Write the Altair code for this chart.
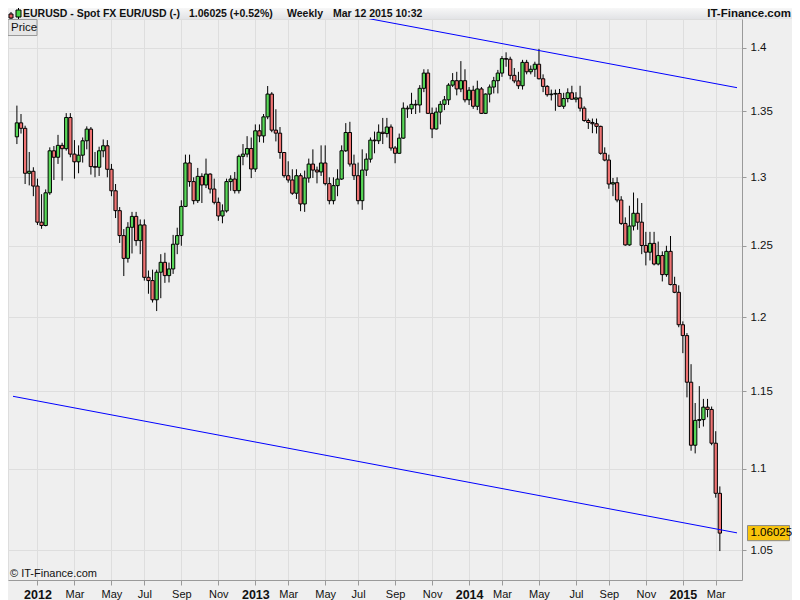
import altair as alt
import pandas as pd

FONT = "Liberation Sans"

# ---------------- data ----------------
FIRST_WEEK = "2011-11-28"
N_WEEKS = 172
FIRST_OPEN = 1.3305
CLOSE = [
    1.3412, 1.3370, 1.3030, 1.3045, 1.2935, 1.2670, 1.2646, 1.2885, 1.3199, 1.3150,
    1.3240, 1.3215, 1.3453, 1.3174, 1.3116, 1.3166, 1.3275, 1.3364, 1.3080, 1.3075,
    1.3199, 1.3237, 1.3060, 1.2900, 1.2754, 1.2573, 1.2410, 1.2633, 1.2712, 1.2537,
    1.2650, 1.2276, 1.2253, 1.2119, 1.2312, 1.2382, 1.2288, 1.2335, 1.2511, 1.2573,
    1.2785, 1.3107, 1.2968, 1.2827, 1.3007, 1.2943, 1.3024, 1.2913, 1.2815, 1.2715,
    1.2752, 1.2968, 1.2987, 1.2901, 1.3157, 1.3174, 1.3216, 1.3062, 1.3351, 1.3312,
    1.3458, 1.3635, 1.3356, 1.3333, 1.3186, 1.3012, 1.2980, 1.2882, 1.3012, 1.2803,
    1.2995, 1.3099, 1.3054, 1.3040, 1.3107, 1.2953, 1.2827, 1.2938, 1.2987, 1.3199,
    1.3338, 1.3099, 1.3012, 1.2827, 1.3054, 1.3136, 1.3280, 1.3275, 1.3340, 1.3330,
    1.3380, 1.3220, 1.3180, 1.3295, 1.3525, 1.3520, 1.3555, 1.3550, 1.3680, 1.3800,
    1.3485, 1.3365, 1.3495, 1.3555, 1.3590, 1.3705, 1.3740, 1.3675, 1.3740, 1.3590,
    1.3665, 1.3540, 1.3675, 1.3485, 1.3635, 1.3690, 1.3740, 1.3800, 1.3915, 1.3910,
    1.3782, 1.3738, 1.3700, 1.3885, 1.3810, 1.3830, 1.3870, 1.3755, 1.3695, 1.3630,
    1.3635, 1.3640, 1.3540, 1.3600, 1.3645, 1.3595, 1.3605, 1.3525, 1.3430, 1.3415,
    1.3405, 1.3385, 1.3180, 1.3129, 1.2950, 1.2960, 1.2832, 1.2661, 1.2506, 1.2642,
    1.2735, 1.2670, 1.2502, 1.2454, 1.2517, 1.2370, 1.2430, 1.2295, 1.2460, 1.2225,
    1.2171, 1.1947, 1.1873, 1.1560, 1.1150, 1.1310, 1.1315, 1.1396, 1.1381, 1.1163,
    1.0847, 1.06025,
]
HIGH = [
    1.3545, 1.3480, 1.3390, 1.3190, 1.3075, 1.2990, 1.2875, 1.2910, 1.3225, 1.3235,
    1.3320, 1.3260, 1.3487, 1.3487, 1.3280, 1.3240, 1.3300, 1.3385, 1.3380, 1.3190,
    1.3230, 1.3285, 1.3280, 1.3100, 1.2950, 1.2780, 1.2620, 1.2670, 1.2745, 1.2745,
    1.2690, 1.2690, 1.2324, 1.2330, 1.2330, 1.2440, 1.2450, 1.2380, 1.2578, 1.2630,
    1.2830, 1.3170, 1.3170, 1.3000, 1.3070, 1.3030, 1.3140, 1.3030, 1.2990, 1.2850,
    1.2800, 1.2990, 1.3015, 1.3040, 1.3170, 1.3250, 1.3310, 1.3300, 1.3400, 1.3400,
    1.3480, 1.3698, 1.3650, 1.3517, 1.3380, 1.3190, 1.3120, 1.3060, 1.3060, 1.3030,
    1.3050, 1.3140, 1.3210, 1.3080, 1.3240, 1.3240, 1.3000, 1.3000, 1.3060, 1.3240,
    1.3410, 1.3420, 1.3170, 1.3110, 1.3210, 1.3180, 1.3300, 1.3345, 1.3400, 1.3450,
    1.3450, 1.3400, 1.3235, 1.3330, 1.3570, 1.3545, 1.3645, 1.3590, 1.3705, 1.3830,
    1.3830, 1.3530, 1.3530, 1.3580, 1.3620, 1.3720, 1.3800, 1.3810, 1.3895, 1.3830,
    1.3690, 1.3700, 1.3740, 1.3690, 1.3640, 1.3710, 1.3770, 1.3825, 1.3935, 1.3965,
    1.3930, 1.3840, 1.3810, 1.3905, 1.3905, 1.3860, 1.3890, 1.3993, 1.3790, 1.3705,
    1.3670, 1.3670, 1.3675, 1.3645, 1.3680, 1.3700, 1.3650, 1.3700, 1.3540, 1.3445,
    1.3445, 1.3445, 1.3390, 1.3225, 1.3170, 1.2995, 1.3000, 1.2860, 1.2705, 1.2790,
    1.2887, 1.2845, 1.2810, 1.2600, 1.2600, 1.2600, 1.2530, 1.2460, 1.2500, 1.2570,
    1.2280, 1.2220, 1.1970, 1.1890, 1.1680, 1.1423, 1.1534, 1.1450, 1.1450, 1.1400,
    1.1240, 1.0890,
]
LOW = [
    1.3250, 1.3330, 1.2950, 1.2940, 1.2860, 1.2650, 1.2622, 1.2640, 1.2870, 1.2980,
    1.3100, 1.2975, 1.3200, 1.3150, 1.2990, 1.3030, 1.3110, 1.3210, 1.3020, 1.3000,
    1.3010, 1.3150, 1.3000, 1.2860, 1.2700, 1.2520, 1.2285, 1.2380, 1.2445, 1.2500,
    1.2440, 1.2253, 1.2161, 1.2100, 1.2041, 1.2130, 1.2237, 1.2240, 1.2300, 1.2440,
    1.2500, 1.2780, 1.2930, 1.2800, 1.2810, 1.2810, 1.2920, 1.2880, 1.2800, 1.2680,
    1.2662, 1.2740, 1.2900, 1.2880, 1.2880, 1.3090, 1.3150, 1.2994, 1.3040, 1.3264,
    1.3260, 1.3440, 1.3340, 1.3270, 1.3139, 1.2997, 1.2960, 1.2870, 1.2840, 1.2750,
    1.2745, 1.2960, 1.2995, 1.2955, 1.3010, 1.2940, 1.2800, 1.2800, 1.2860, 1.2980,
    1.3190, 1.3080, 1.2980, 1.2800, 1.2760, 1.3010, 1.3110, 1.3180, 1.3250, 1.3250,
    1.3300, 1.3200, 1.3105, 1.3180, 1.3290, 1.3450, 1.3480, 1.3480, 1.3490, 1.3650,
    1.3480, 1.3295, 1.3360, 1.3400, 1.3510, 1.3550, 1.3690, 1.3625, 1.3650, 1.3570,
    1.3550, 1.3520, 1.3510, 1.3480, 1.3480, 1.3570, 1.3640, 1.3640, 1.3770, 1.3850,
    1.3750, 1.3720, 1.3675, 1.3670, 1.3790, 1.3790, 1.3770, 1.3750, 1.3650, 1.3615,
    1.3585, 1.3505, 1.3535, 1.3520, 1.3570, 1.3590, 1.3570, 1.3500, 1.3420, 1.3365,
    1.3333, 1.3330, 1.3170, 1.3120, 1.2915, 1.2860, 1.2815, 1.2650, 1.2500, 1.2500,
    1.2610, 1.2615, 1.2440, 1.2360, 1.2395, 1.2360, 1.2360, 1.2247, 1.2280, 1.2220,
    1.2165, 1.1930, 1.1754, 1.1460, 1.1115, 1.1098, 1.1260, 1.1270, 1.1330, 1.1150,
    1.0820, 1.0494,
]

# trend lines (two points each)
UPPER_DATES = ["2013-04-03T00:00:00Z", "2015-04-07T04:48:00Z"]
UPPER_PRICES = [1.4334, 1.3685]
LOWER_DATES = ["2011-11-21T08:30:00Z", "2015-04-07T04:48:00Z"]
LOWER_PRICES = [1.1467, 1.0604]

LAST_PRICE = 1.06025

# axis ticks: first weekly bar of each second month
X_TICKS = ["2012-01-02", "2012-03-05", "2012-05-07", "2012-07-02", "2012-09-03", "2012-11-05",
           "2013-01-07", "2013-03-04", "2013-05-06", "2013-07-01", "2013-09-02", "2013-11-04",
           "2014-01-06", "2014-03-03", "2014-05-05", "2014-07-07", "2014-09-01", "2014-11-03",
           "2015-01-05", "2015-03-02"]
Y_TICKS = [1.05, 1.1, 1.15, 1.2, 1.25, 1.3, 1.35, 1.4]
X_DOMAIN = ["2011-11-21T08:30:00Z", "2015-04-07T04:48:00Z"]
Y_DOMAIN = [1.03215, 1.42342]

HEADER_PARTS = ["EURUSD - Spot FX EUR/USD (-)", "1.06025 (+0.52%)", "Weekly", "Mar 12 2015 10:32"]


def ms(s):
    t = pd.Timestamp(s)
    if t.tzinfo is None:
        t = t.tz_localize("UTC")
    return int(t.value // 10**6)


dates = pd.date_range(FIRST_WEEK, periods=N_WEEKS, freq="7D")
opens = [FIRST_OPEN] + CLOSE[:-1]
df = pd.DataFrame({
    "date": [d.strftime("%Y-%m-%d") for d in dates],
    "open": opens, "close": CLOSE, "high": HIGH, "low": LOW,
})
df["dir"] = ["up" if c >= o else "down" for o, c in zip(df["open"], df["close"])]

trend = pd.DataFrame({
    "date": UPPER_DATES + LOWER_DATES,
    "price": UPPER_PRICES + LOWER_PRICES,
    "line": ["upper"] * 2 + ["lower"] * 2,
})

xscale = alt.Scale(type="utc", domain=[ms(d) for d in X_DOMAIN], nice=False)
yscale = alt.Scale(type="log", domain=Y_DOMAIN, nice=False, zero=False)

is_jan = "utcmonth(datum.value) == 0"
xaxis = alt.Axis(
    values=[ms(d) for d in X_TICKS],
    labelExpr=f"{is_jan} ? utcFormat(datum.value, '%Y') : utcFormat(datum.value, '%b')",
    labelFontWeight={"condition": {"test": is_jan, "value": "bold"}, "value": "normal"},
    labelFontSize={"condition": {"test": is_jan, "value": 12.5}, "value": 11},
    labelAlign="center", labelOverlap=False, labelFlush=False,
    tickSize=5, labelPadding=3, grid=True, gridColor="#dedede",
    domainColor="#9a9a9a", tickColor="#9a9a9a", labelColor="#111111", title=None,
)
yaxis = alt.Axis(
    orient="right", values=Y_TICKS, labelExpr="'' + datum.value",
    tickSize=4, labelPadding=4, grid=True, gridColor="#dedede",
    domainColor="#9a9a9a", tickColor="#9a9a9a", labelColor="#111111",
    labelFontSize=11.5, title=None,
)

X = alt.X("date:T", scale=xscale, axis=xaxis, title=None)

wicks = alt.Chart(df).mark_rule(color="black", strokeWidth=1).encode(
    x=X,
    y=alt.Y("low:Q", scale=yscale, axis=yaxis, title=None),
    y2="high:Q",
)
bodies = alt.Chart(df).mark_bar(size=3.3, stroke="black", strokeWidth=1).encode(
    x=X,
    y=alt.Y("open:Q", scale=yscale, axis=yaxis, title=None),
    y2="close:Q",
    color=alt.Color("dir:N", scale=alt.Scale(domain=["up", "down"], range=["#58d858", "#f07474"]), legend=None),
)
lines = alt.Chart(trend).mark_line(color="#0000ff", strokeWidth=1, clip=True).encode(
    x=X,
    y=alt.Y("price:Q", scale=yscale, axis=yaxis, title=None),
    detail="line:N",
)

last = pd.DataFrame({"price": [LAST_PRICE], "label": [f"{LAST_PRICE:.5f}"]})
tag_box = alt.Chart(last).mark_point(
    shape="M-1,-0.36L1,-0.36L1,0.36L-1,0.36Z", filled=True, size=1764,
    fill="#f8c40c", stroke="#8a8a8a", strokeWidth=1, opacity=1,
).encode(x=alt.value(760.5), y=alt.Y("price:Q", scale=yscale, axis=yaxis, title=None))
tag_text = alt.Chart(last).mark_text(align="left", baseline="middle", fontSize=11.5, color="black", font=FONT).encode(
    x=alt.value(742.5), y=alt.Y("price:Q", scale=yscale, axis=yaxis, title=None), text="label:N",
)

one = pd.DataFrame({"k": [0]})


def rect(x, x2, y, y2, **kw):
    return alt.Chart(one).mark_rect(**kw).encode(
        x=alt.value(x), x2=alt.value(x2), y=alt.value(y), y2=alt.value(y2))


def rule(x, y, y2, **kw):
    return alt.Chart(one).mark_rule(**kw).encode(x=alt.value(x), y=alt.value(y), y2=alt.value(y2))


def txt(s, x, y, size=11, weight="normal", align="left", baseline="middle"):
    return alt.Chart(one).mark_text(text=s, align=align, baseline=baseline, fontSize=size,
                                    fontWeight=weight, color="#111111", font=FONT).encode(
        x=alt.value(x), y=alt.value(y))


header_bg = rect(0, 784, -11, 0, fill=alt.Gradient(
    gradient="linear", x1=0, x2=0, y1=0, y2=1,
    stops=[alt.GradientStop(color="#f7f7f7", offset=0), alt.GradientStop(color="#e2e3e6", offset=1)]))
icon = [
    rule(3, -7, 0, color="black", strokeWidth=1),
    rect(1, 5, -5, -1, fill="#e86060", stroke="black", strokeWidth=1),
    rule(10.5, -11, 0, color="black", strokeWidth=1),
    rect(8, 13, -9, -2, fill="#44d444", stroke="black", strokeWidth=1),
]
HY = -5
header_txt = [
    txt(HEADER_PARTS[0], 15, HY, size=10.5, weight="bold"),
    txt(HEADER_PARTS[1], 181, HY, size=10.5, weight="bold"),
    txt(HEADER_PARTS[2], 279, HY, size=10.5, weight="bold"),
    txt(HEADER_PARTS[3], 325, HY, size=10.5, weight="bold"),
    txt("IT-Finance.com", 783, HY, size=11.5, weight="bold", align="right"),
]
price_box = [
    rect(0, 29, 0.5, 16.5, fill="#e6e6e6", stroke="#9a9a9a", strokeWidth=1),
    txt("Price", 3, 9, size=11.5),
]
watermark = txt("\u00a9 IT-Finance.com", 2, 558, size=11, baseline="alphabetic")

chart = alt.layer(
    wicks, bodies, lines, tag_box, tag_text, header_bg, *icon, *header_txt, *price_box, watermark
).properties(
    width=734, height=561,
    padding={"left": 0, "top": 11, "right": 50, "bottom": 20},
    autosize=alt.AutoSizeParams(type="none"),
    background="#efefef",
).configure_view(
    fill="white", stroke="#9a9a9a"
).configure(
    font=FONT
).configure_axis(
    labelFont=FONT
)

chart.save("out.html", embed_options={"renderer": "svg", "actions": False})
